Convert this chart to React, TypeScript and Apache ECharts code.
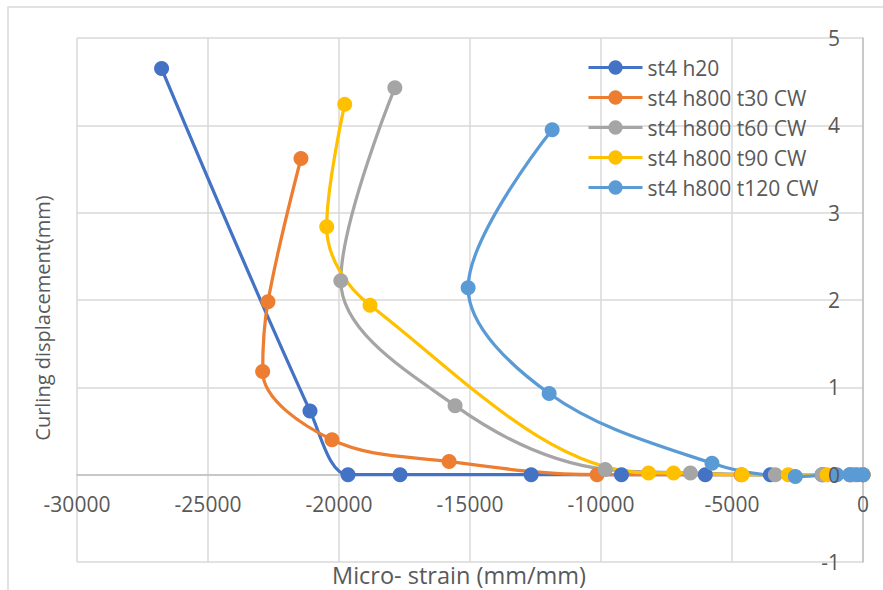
import React, { useEffect, useRef } from "react";
import * as echarts from "echarts";

const seriesNames = [
  "st4 h20",
  "st4 h800 t30 CW",
  "st4 h800 t60 CW",
  "st4 h800 t90 CW",
  "st4 h800 t120 CW",
];
const seriesColors = ["#4472C4", "#ED7D31", "#A5A5A5", "#FFC000", "#5B9BD5"];

const h20: [number, number][] = [
  [-26772, 4.65], [-21107, 0.73], [-19656, 0], [-17670, 0], [-12666, 0],
  [-9220, 0], [-6020, 0], [-3537, 0], [-1562, 0], [-500, 0], [0, 0],
];
const t30: [number, number][] = [
  [-21452, 3.62], [-22712, 1.98], [-22914, 1.18], [-20268, 0.4], [-15798, 0.15],
  [-10150, 0], [-4650, 0], [-1500, 0], [-400, 0], [0, 0],
];
const t60: [number, number][] = [
  [-17868, 4.43], [-19931, 2.22], [-15569, 0.79], [-9840, 0.06], [-6589, 0.02],
  [-3346, 0], [-1562, 0], [-300, 0], [0, 0],
];
const t90: [number, number][] = [
  [-19782, 4.24], [-20470, 2.84], [-18815, 1.94], [-8185, 0.02], [-7230, 0.02],
  [-4618, 0], [-2850, 0], [-1371, 0], [-500, 0], [0, 0],
];
const t120: [number, number][] = [
  [-11864, 3.95], [-15072, 2.14], [-11979, 0.93], [-5764, 0.13], [-2582, -0.02],
  [-1000, 0], [-500, 0], [-200, 0], [0, 0],
];
const seriesData = [h20, t30, t60, t90, t120];

const xTitle = "Micro- strain (mm/mm)";
const yTitle = "Curling displacement(mm)";

const FONT = "'Open Sans', 'Noto Sans', sans-serif";
const TEXT = "#595959";

const GRID_TOP = 38;
const GRID_BOTTOM = 28;
const Y_MIN = -1;
const Y_MAX = 5;

export default function App() {
  const ref = useRef<HTMLDivElement>(null);
  useEffect(() => {
    if (!ref.current) return;
    const chart = echarts.init(ref.current, null, { renderer: "svg" });
    const gridH = 590 - GRID_TOP - GRID_BOTTOM;
    const zeroOffset = -(gridH * (0 - Y_MIN)) / (Y_MAX - Y_MIN);
    const yLabel = {
      color: TEXT,
      fontSize: 21,
      fontFamily: FONT,
      inside: true,
      margin: 23,
      formatter: (v: number) => String(v),
    };
    chart.setOption({
      animation: false,
      backgroundColor: "#ffffff",
      textStyle: { fontFamily: FONT },
      grid: {
        left: 77,
        right: 20,
        top: GRID_TOP,
        bottom: GRID_BOTTOM,
        containLabel: false,
        outerBoundsMode: "none",
      },
      xAxis: {
        type: "value",
        min: -30000,
        max: 0,
        interval: 5000,
        position: "bottom",
        offset: zeroOffset,
        axisLine: { show: true, onZero: false, lineStyle: { color: "#BFBFBF", width: 1.5 } },
        axisTick: { show: false },
        axisLabel: {
          color: TEXT,
          fontSize: 21,
          fontFamily: FONT,
          margin: 19,
          formatter: (v: number) => String(v),
        },
        splitLine: { show: true, lineStyle: { color: "#D9D9D9", width: 1.5 } },
      },
      yAxis: [
        {
          type: "value",
          min: Y_MIN,
          max: Y_MAX,
          interval: 1,
          position: "right",
          axisLine: { show: true, onZero: false, lineStyle: { color: "#BFBFBF", width: 1.5 } },
          axisTick: { show: false },
          axisLabel: { ...yLabel, show: false },
          splitLine: { show: true, lineStyle: { color: "#D9D9D9", width: 1.5 } },
        },
        {
          type: "value",
          min: Y_MIN,
          max: Y_MAX,
          interval: 1,
          position: "right",
          z: 10,
          axisLine: { show: false, onZero: false },
          axisTick: { show: false },
          axisLabel: yLabel,
          splitLine: { show: false },
        },
      ],
      legend: {
        orient: "vertical",
        left: 587,
        top: 57,
        itemWidth: 54,
        itemHeight: 18,
        itemGap: 9,
        padding: 0,
        lineStyle: { width: 3 },
        textStyle: { color: TEXT, fontSize: 21, fontFamily: FONT, lineHeight: 21 },
        data: seriesNames,
      },
      graphic: [
        {
          type: "rect",
          shape: { x: 8, y: 7, width: 900, height: 600 },
          style: { fill: "none", stroke: "#D9D9D9", lineWidth: 1.5 },
          silent: true,
        },
        {
          type: "text",
          x: 42,
          y: 318,
          rotation: Math.PI / 2,
          style: {
            text: yTitle,
            fill: TEXT,
            fontSize: 20,
            fontFamily: FONT,
            textAlign: "center",
            textVerticalAlign: "middle",
          },
        },
        {
          type: "text",
          x: 459,
          y: 575,
          style: {
            text: xTitle,
            fill: TEXT,
            fontSize: 23.5,
            fontFamily: FONT,
            textAlign: "center",
            textVerticalAlign: "middle",
          },
        },
      ],
      series: seriesNames.map((name, i) => ({
        name,
        type: "line",
        yAxisIndex: 0,
        data: seriesData[i],
        smooth: 0.35,
        symbol: "circle",
        symbolSize: 15,
        color: seriesColors[i],
        lineStyle: { width: 3.25, color: seriesColors[i] },
        itemStyle: { color: seriesColors[i] },
      })),
    });
    return () => chart.dispose();
  }, []);
  return (
    <div
      ref={ref}
      style={{ position: "absolute", left: 0, top: 0, width: 883, height: 590 }}
    />
  );
}
